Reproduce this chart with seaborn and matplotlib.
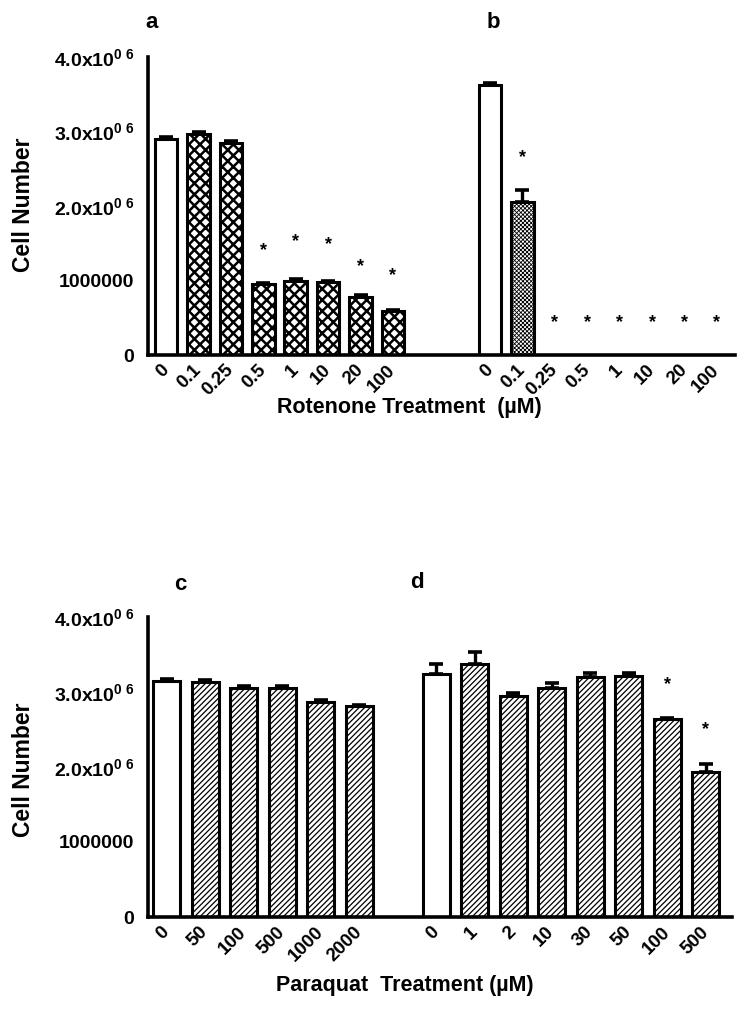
import numpy as np
import pandas as pd
import matplotlib
matplotlib.use("Agg")
import matplotlib.pyplot as plt
import seaborn as sns

# ---------------- data ----------------
rot_labels = ["0", "0.1", "0.25", "0.5", "1", "10", "20", "100"]
rot_a_vals = [2.90e6, 2.97e6, 2.84e6, 0.95e6, 1.00e6, 0.98e6, 0.78e6, 0.59e6]
rot_a_err = [0.02e6, 0.02e6, 0.03e6, 0.02e6, 0.02e6, 0.02e6, 0.02e6, 0.02e6]
rot_a_star = [None, None, None, 1.40e6, 1.52e6, 1.48e6, 1.18e6, 1.07e6]

rot_b_vals = [3.62e6, 2.05e6, 0.0, 0.0, 0.0, 0.0, 0.0, 0.0]
rot_b_err = [0.03e6, 0.16e6, 0.0, 0.0, 0.0, 0.0, 0.0, 0.0]
rot_b_star = [None, 2.65e6, 0.44e6, 0.44e6, 0.43e6, 0.44e6, 0.44e6, 0.44e6]

pq_c_labels = ["0", "50", "100", "500", "1000", "2000"]
pq_c_vals = [3.15e6, 3.14e6, 3.06e6, 3.06e6, 2.87e6, 2.81e6]
pq_c_err = [0.02e6, 0.02e6, 0.02e6, 0.02e6, 0.02e6, 0.02e6]

pq_d_labels = ["0", "1", "2", "10", "30", "50", "100", "500"]
pq_d_vals = [3.24e6, 3.38e6, 2.95e6, 3.05e6, 3.20e6, 3.22e6, 2.64e6, 1.93e6]
pq_d_err = [0.14e6, 0.15e6, 0.04e6, 0.07e6, 0.05e6, 0.04e6, 0.01e6, 0.11e6]
pq_d_star = [None, None, None, None, None, None, 3.10e6, 2.50e6]

y_ticks = [0, 1e6, 2e6, 3e6, 4e6]
y_ticklabels = ["0", "1000000", r"$\mathbf{2.0x10}^{0\,\,6}$",
                r"$\mathbf{3.0x10}^{0\,\,6}$", r"$\mathbf{4.0x10}^{0\,\,6}$"]

# ---------------- style ----------------
sns.set_style("white")
FONT = "Liberation Sans"
plt.rcParams["font.family"] = [FONT, "DejaVu Sans"]
plt.rcParams["font.weight"] = "bold"
plt.rcParams["mathtext.fontset"] = "custom"
plt.rcParams["mathtext.rm"] = "Liberation Sans"
plt.rcParams["mathtext.it"] = "Liberation Sans"
plt.rcParams["mathtext.bf"] = "Liberation Sans:bold"
for k in ["text.color", "axes.labelcolor", "xtick.color", "ytick.color", "axes.edgecolor"]:
    plt.rcParams[k] = "black"

EDGE_LW = 2.2
W, H = 742, 1017
fig = plt.figure(figsize=(W / 100, H / 100), dpi=100)


def px_axes(l, r, t, b):
    return fig.add_axes([l / W, 1 - b / H, (r - l) / W, (b - t) / H])


def set_hatch(patch, hatch, lw):
    patch.set_hatch(hatch)
    if hasattr(patch, "set_hatch_linewidth"):
        patch.set_hatch_linewidth(lw)


def panel(ax, groups, xlim, xlabel, xlabel_xy, ylabel_xy):
    rows = []
    for labels, vals, errs, stars, offset, hatch, hlw in groups:
        for i, (lab, v, e) in enumerate(zip(labels, vals, errs)):
            rows.append(dict(pos=offset + i, value=v, err=e, label=lab,
                             star=stars[i] if stars else None,
                             hatch=("" if i == 0 else hatch), hlw=hlw))
    df = pd.DataFrame(rows)
    sns.barplot(data=df, x="pos", y="value", native_scale=True, width=0.7,
                color="white", edgecolor="black", linewidth=EDGE_LW,
                errorbar=None, ax=ax, zorder=2)
    for patch, (_, r) in zip(ax.patches, df.iterrows()):
        if r["hatch"]:
            set_hatch(patch, r["hatch"], r["hlw"])
    m = df["err"] > 0
    ax.errorbar(df.loc[m, "pos"], df.loc[m, "value"],
                yerr=[np.zeros(m.sum()), df.loc[m, "err"]],
                fmt="none", ecolor="black", elinewidth=2.4, capsize=5,
                capthick=2.6, zorder=3)
    for _, r in df.iterrows():
        if r["star"] is not None and not pd.isna(r["star"]):
            ax.text(r["pos"], r["star"], "*", ha="center", va="center",
                    fontsize=13, fontweight="bold", zorder=4)
    ax.set_xlim(*xlim)
    ax.set_ylim(0, 4e6)
    ax.set_xticks(df["pos"].tolist())
    ax.set_xticklabels(df["label"].tolist(), rotation=45, ha="right",
                       va="center", rotation_mode="anchor",
                       fontsize=13.5, fontweight="bold")
    ax.set_yticks(y_ticks)
    ax.set_yticklabels(y_ticklabels, fontsize=14, fontweight="bold")
    ax.tick_params(axis="x", length=0, pad=9)
    ax.tick_params(axis="y", length=6, width=2.4, direction="out", pad=4)
    for s in ["top", "right"]:
        ax.spines[s].set_visible(False)
    for s in ["left", "bottom"]:
        ax.spines[s].set_linewidth(2.6)
        ax.spines[s].set_color("black")
    ax.set_xlabel(xlabel, fontsize=15.5, fontweight="bold")
    ax.set_ylabel("Cell Number", fontsize=16.5, fontweight="bold")
    ax.xaxis.set_label_coords(*xlabel_xy)
    ax.yaxis.set_label_coords(*ylabel_xy)
    ax.xaxis.label.set_va("center")
    ax.yaxis.label.set_va("center")


ax1 = px_axes(148, 735, 57, 355)
panel(ax1,
      [(rot_labels, rot_a_vals, rot_a_err, rot_a_star, 0, "xxx", 1.8),
       (rot_labels, rot_b_vals, rot_b_err, rot_b_star, 10, "xxxxxxxx", 0.6)],
      (-0.56, 17.56), "Rotenone Treatment  (\u00b5M)",
      ((409 - 148) / 587, (355 - 408) / 298), ((24 - 148) / 587, (355 - 205) / 298))

ax2 = px_axes(148, 732, 617, 917)
panel(ax2,
      [(pq_c_labels, pq_c_vals, pq_c_err, None, 0, "//////", 0.9),
       (pq_d_labels, pq_d_vals, pq_d_err, pq_d_star, 7, "//////", 0.9)],
      (-0.49, 14.68), "Paraquat  Treatment (\u00b5M)",
      ((405 - 148) / 584, (917 - 985) / 300), ((24 - 148) / 584, (917 - 770) / 300))

for lab, x, y in [("a", 152, 22), ("b", 493, 22), ("c", 180, 584), ("d", 417, 582)]:
    fig.text(x / W, 1 - y / H, lab, fontsize=16, fontweight="bold",
             ha="center", va="center")

fig.savefig("out.png", dpi=100)
